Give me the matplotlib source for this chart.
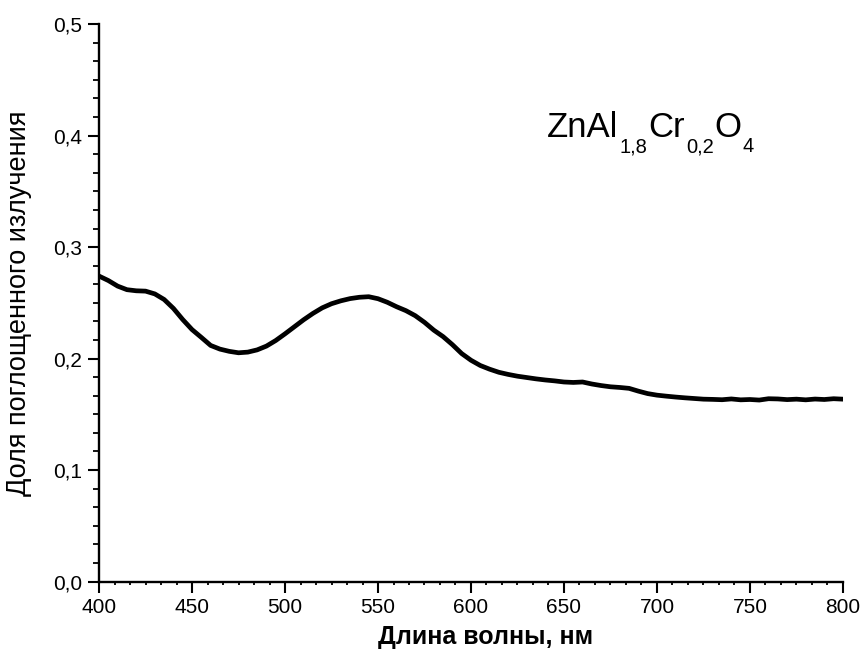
import matplotlib
matplotlib.use("Agg")
import matplotlib.pyplot as plt
from matplotlib.ticker import AutoMinorLocator
from matplotlib.transforms import IdentityTransform

plt.rcParams['font.family'] = ['Liberation Sans', 'DejaVu Sans']

# спектр поглощения ZnAl1,8Cr0,2O4
wavelength = [400, 405, 410, 415, 420, 425, 430, 435, 440, 445,
              450, 455, 460, 465, 470, 475, 480, 485, 490, 495,
              500, 505, 510, 515, 520, 525, 530, 535, 540, 545,
              550, 555, 560, 565, 570, 575, 580, 585, 590, 595,
              600, 605, 610, 615, 620, 625, 630, 635, 640, 645,
              650, 655, 660, 665, 670, 675, 680, 685, 690, 695,
              700, 705, 710, 715, 720, 725, 730, 735, 740, 745,
              750, 755, 760, 765, 770, 775, 780, 785, 790, 795, 800]
absorbance = [0.274, 0.270, 0.265, 0.2618, 0.2608, 0.2605, 0.258, 0.253, 0.245, 0.235,
              0.226, 0.219, 0.2118, 0.2085, 0.2065, 0.2052, 0.2058, 0.2078, 0.2112, 0.2162,
              0.2222, 0.2285, 0.2348, 0.2405, 0.2455, 0.2492, 0.2518, 0.2538, 0.2550, 0.2555,
              0.2537, 0.2505, 0.2465, 0.2430, 0.2385, 0.2325, 0.2255, 0.2197, 0.2125, 0.2045,
              0.1985, 0.1938, 0.1905, 0.1877, 0.1858, 0.1842, 0.1830, 0.1818, 0.1808, 0.1800,
              0.1790, 0.1786, 0.1790, 0.1772, 0.1758, 0.1747, 0.1741, 0.1733, 0.1708, 0.1686,
              0.1672, 0.1663, 0.1655, 0.1648, 0.1642, 0.1636, 0.1634, 0.1631, 0.1638, 0.1630,
              0.1633, 0.1628, 0.1640, 0.1638, 0.1632, 0.1636, 0.1630, 0.1637, 0.1633, 0.1640, 0.1636]

x_ticks = [400, 450, 500, 550, 600, 650, 700, 750, 800]
y_ticks = [0.0, 0.1, 0.2, 0.3, 0.4, 0.5]
y_tick_labels = ['0,0', '0,1', '0,2', '0,3', '0,4', '0,5']

# формула: (текст, подстрочный индекс?)
formula_parts = [('ZnAl', False), ('1,8', True), ('Cr', False),
                 ('0,2', True), ('O', False), ('4', True)]

fig = plt.figure(figsize=(8.65, 6.7), dpi=100)
ax = fig.add_axes([0.1145, 0.132, 0.86, 0.832])

ax.plot(wavelength, absorbance, color='black', linewidth=3.4, solid_joinstyle='round')

ax.set_xlim(400, 800)
ax.set_ylim(0, 0.5)
ax.set_xticks(x_ticks)
ax.set_xticklabels([str(v) for v in x_ticks], fontsize=15)
ax.set_yticks(y_ticks)
ax.set_yticklabels(y_tick_labels, fontsize=15)
ax.xaxis.set_minor_locator(AutoMinorLocator(6))
ax.yaxis.set_minor_locator(AutoMinorLocator(6))

for side in ['top', 'right']:
    ax.spines[side].set_visible(False)
for side in ['left', 'bottom']:
    ax.spines[side].set_linewidth(1.7)

ax.tick_params(axis='both', which='major', direction='out', length=8, width=1.5, pad=4)
ax.tick_params(axis='x', which='minor', direction='out', length=2.5, width=1.3)
ax.tick_params(axis='y', which='minor', direction='out', length=4.5, width=1.3)

ax.set_xlabel('Длина волны, нм', fontsize=18, fontweight='bold')
ax.xaxis.label.set_va('center')
ax.xaxis.set_label_coords(0.519, -0.1)
ax.set_ylabel('Доля поглощенного излучения', fontsize=19.5)
ax.yaxis.label.set_va('center')
ax.yaxis.set_label_coords(-0.107, 0.5)

# подпись формулы с опущенными индексами, собирается по кусочкам
renderer = fig.canvas.get_renderer()
x_px, y_px = ax.transData.transform((641, 0.3984))
for text, is_sub in formula_parts:
    size = 14.5 if is_sub else 25
    dy = -15 if is_sub else 0
    t = fig.text(x_px, y_px + dy, text, fontsize=size, va='baseline', ha='left',
                 transform=IdentityTransform())
    x_px += t.get_window_extent(renderer).width + 1

fig.savefig('out.png', dpi=100)
